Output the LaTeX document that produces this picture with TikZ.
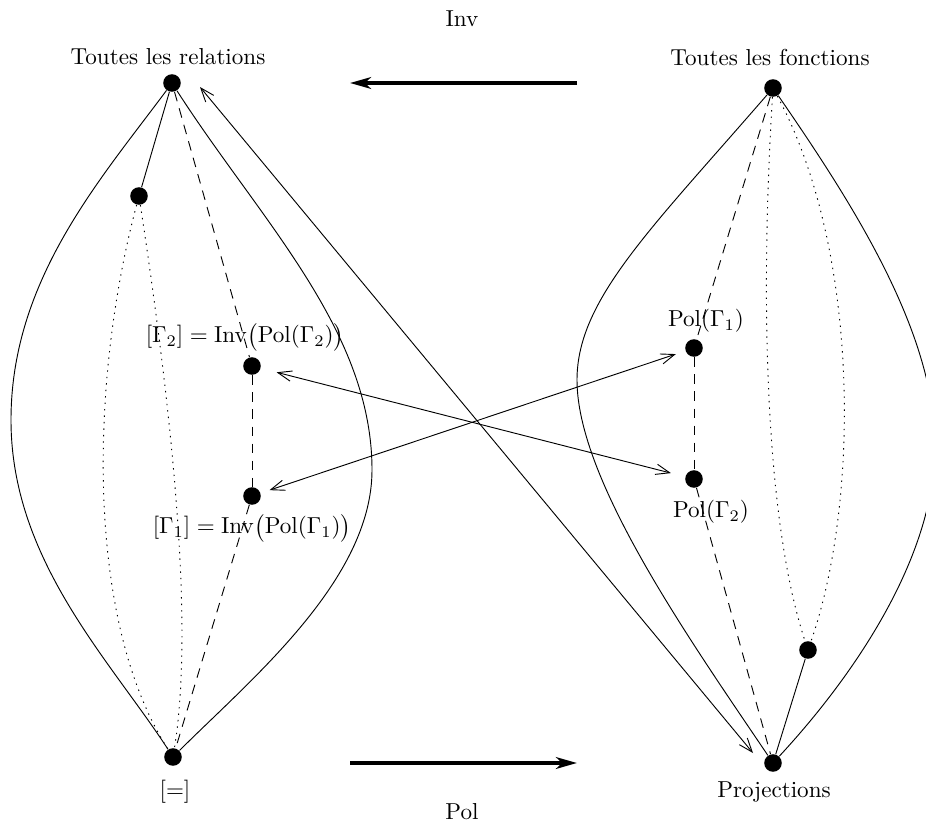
\documentclass[tikz,border=0pt]{standalone}
\usetikzlibrary{arrows.meta}
\begin{document}
\begin{tikzpicture}[x=0.433pt,y=-0.433pt,
  dot/.style={circle,fill=black,inner sep=0pt,minimum size=7.6pt},
  lbl/.style={inner sep=0pt},
  dashline/.style={dash pattern=on 4.2pt off 3.2pt},
  dotline/.style={dash pattern=on 0.6pt off 2.2pt},
  dbl/.style={{Straight Barb[length=6pt,width=4.5pt]}-{Straight Barb[length=6pt,width=4.5pt]}},
  bigarrow/.style={line width=1.8pt,-{Stealth[length=9pt,width=5pt,inset=2.5pt]}}]
\useasboundingbox (0,0) rectangle (926,825);

% nodes left lens
\node[dot] (TR) at (172,83) {};
\node[dot] (D1) at (139,196) {};
\node[dot] (G2) at (252,366) {};
\node[dot] (G1) at (252,496) {};
\node[dot] (EQ) at (173,757) {};
% nodes right lens
\node[dot] (TF) at (773,88) {};
\node[dot] (P1) at (694,348) {};
\node[dot] (P2) at (694,479) {};
\node[dot] (D2) at (808,650) {};
\node[dot] (PR) at (773,763) {};

% labels
\node[lbl] (lTR) at (168,57) {Toutes les relations};
\node[lbl] (lTF) at (770,57) {Toutes les fonctions};
\node[lbl] (lEQ) at (175,792) {$[=]$};
\node[lbl] (lPR) at (774,792) {Projections};
\node[lbl] (lG2) at (245,337) {$[\Gamma_2]=\mathrm{Inv}\bigl(\mathrm{Pol}(\Gamma_2)\bigr)$};
\node[lbl] (lG1) at (252,528) {$[\Gamma_1]=\mathrm{Inv}\bigl(\mathrm{Pol}(\Gamma_1)\bigr)$};
\node[lbl] (lP1) at (706,321) {$\mathrm{Pol}(\Gamma_1)$};
\node[lbl] (lP2) at (711,512) {$\mathrm{Pol}(\Gamma_2)$};
\node[lbl] (lInv) at (462,19) {Inv};
\node[lbl] (lPol) at (462,812) {Pol};

% left lens curves
\draw (TR) .. controls (100,180) and (11,280) .. (11,420)
           .. controls (11,560) and (110,660) .. (EQ);
\draw (TR) .. controls (260,220) and (372,330) .. (372,470)
           .. controls (372,580) and (250,680) .. (EQ);
\draw (TR) -- (D1);
\draw[dotline] (D1) .. controls (90,380) and (85,620) .. (EQ);
\draw[dotline] (D1) .. controls (170,400) and (195,620) .. (EQ);
\draw[dashline] (TR) -- (G2);
\draw[dashline] (G2) -- (G1);
\draw[dashline] (G1) -- (EQ);

% right lens curves
\draw (TF) .. controls (650,230) and (577,300) .. (577,380)
           .. controls (577,480) and (690,640) .. (PR);
\draw (TF) .. controls (850,200) and (935,330) .. (935,446)
           .. controls (935,560) and (850,680) .. (PR);
\draw[dotline] (TF) .. controls (760,300) and (765,520) .. (D2);
\draw[dotline] (TF) .. controls (860,250) and (860,500) .. (D2);
\draw (D2) -- (PR);
\draw[dashline] (TF) -- (P1);
\draw[dashline] (P1) -- (P2);
\draw[dashline] (P2) -- (PR);

% correspondences
\draw[dbl, shorten <=7pt, shorten >=6.3pt] (G2) -- (P2);
\draw[dbl, shorten <=4pt, shorten >=4.3pt] (G1) -- (P1);
\coordinate (a1) at (200,87);
\coordinate (a2) at (753,753);
\draw[dbl] (a1) -- (a2);

% big arrows
\coordinate (i1) at (577,83);
\coordinate (i2) at (350,83);
\draw[bigarrow] (i1) -- (i2);
\coordinate (p1) at (350,763);
\coordinate (p2) at (577,763);
\draw[bigarrow] (p1) -- (p2);
\end{tikzpicture}
\end{document}
